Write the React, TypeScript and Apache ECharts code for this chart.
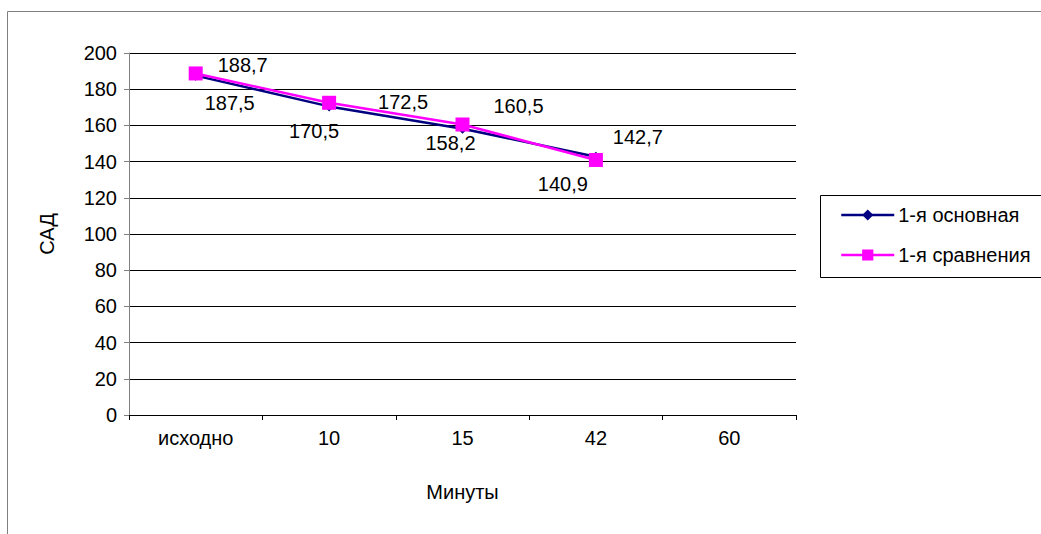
import React, { useEffect, useRef } from "react";
import * as echarts from "echarts";

// Systolic pressure (САД) over time for two groups
const categories = ["исходно", "10", "15", "42", "60"];
const mainValues = [187.5, 170.5, 158.2, 142.7];
const compValues = [188.7, 172.5, 160.5, 140.9];
const yTicks = { min: 0, max: 200, interval: 20 };

// label placement around each point (dx, dy in px)
const mainLabelOffsets = [[34, 27], [-15, 25], [-12, 14], [42, -20]];
const compLabelOffsets = [[47, -8], [74, -1], [56, -18], [-33, 24]];

const FONT = "'Liberation Sans', Arial, sans-serif";
const FS = 20;

const fmt = (v: number) => String(v).replace(".", ",");

function buildData(values: number[], offsets: number[][]) {
  return values.map((v, i) => ({
    value: v,
    label: { offset: offsets[i] },
  }));
}

export default function App() {
  const ref = useRef<HTMLDivElement>(null);

  useEffect(() => {
    if (!ref.current) return;
    const chart = echarts.init(ref.current, undefined, { renderer: "svg" });
    const labelStyle = {
      show: true,
      position: "inside" as const,
      color: "#000",
      fontFamily: FONT,
      fontSize: FS,
      formatter: (p: any) => fmt(p.value),
    };
    chart.setOption({
      animation: false,
      backgroundColor: "#fff",
      textStyle: { fontFamily: FONT, color: "#000" },
      grid: { left: 129, top: 53, right: 245, bottom: 119, containLabel: false },
      graphic: [
        {
          type: "rect",
          shape: { x: 7.5, y: 11.5, width: 1200, height: 700 },
          style: { fill: "none", stroke: "#7f7f7f", lineWidth: 1 },
          silent: true,
          z: -10,
        },
        {
          type: "rect",
          shape: { x: 820.5, y: 195.5, width: 400, height: 82 },
          style: { fill: "#fff", stroke: "#000", lineWidth: 1 },
          silent: true,
          z: 0,
        },
      ],
      legend: {
        orient: "vertical",
        left: 840,
        top: 205,
        padding: 0,
        itemWidth: 53,
        itemHeight: 14,
        itemGap: 20,
        z: 10,
        lineStyle: { width: 2.5 },
        textStyle: { fontFamily: FONT, fontSize: FS, color: "#000", padding: [0, 0, 0, -1] },
        data: ["1-я основная", "1-я сравнения"],
      },
      xAxis: {
        type: "category",
        data: categories,
        boundaryGap: true,
        name: "Минуты",
        nameLocation: "middle",
        nameGap: 67,
        nameTextStyle: { fontFamily: FONT, fontSize: FS, color: "#000" },
        axisLine: { lineStyle: { color: "#000", width: 1 } },
        axisTick: { show: true, length: 5, lineStyle: { color: "#000" } },
        axisLabel: { margin: 13, fontFamily: FONT, fontSize: FS, color: "#000" },
        splitLine: { show: false },
      },
      yAxis: {
        type: "value",
        min: yTicks.min,
        max: yTicks.max,
        interval: yTicks.interval,
        name: "САД",
        nameLocation: "middle",
        nameRotate: 90,
        nameGap: 72,
        nameTextStyle: { fontFamily: FONT, fontSize: FS, color: "#000" },
        axisLine: { show: true, lineStyle: { color: "#808080", width: 1 } },
        axisTick: { show: true, length: 5, lineStyle: { color: "#808080" } },
        axisLabel: { margin: 12, fontFamily: FONT, fontSize: FS, color: "#000" },
        splitLine: { show: true, lineStyle: { color: "#000", width: 1 } },
      },
      series: [
        {
          name: "1-я основная",
          type: "line",
          data: buildData(mainValues, mainLabelOffsets),
          symbol: "diamond",
          symbolSize: 10,
          itemStyle: { color: "#000080" },
          lineStyle: { color: "#000080", width: 2.5 },
          label: labelStyle,
          z: 2,
        },
        {
          name: "1-я сравнения",
          type: "line",
          data: buildData(compValues, compLabelOffsets),
          symbol: "rect",
          symbolSize: 14,
          itemStyle: { color: "#ff00ff" },
          lineStyle: { color: "#ff00ff", width: 2.5 },
          label: labelStyle,
          z: 3,
        },
      ],
    });
    return () => chart.dispose();
  }, []);

  return (
    <div
      ref={ref}
      style={{ position: "fixed", left: 0, top: 0, width: 1041, height: 534 }}
    />
  );
}
